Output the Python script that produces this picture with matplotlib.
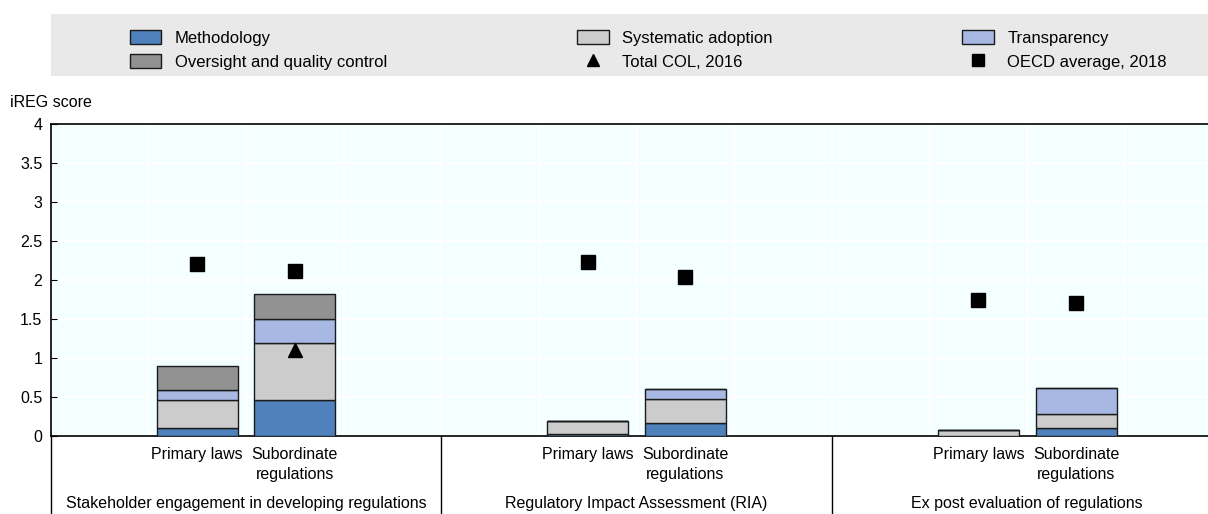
import numpy as np
import matplotlib.pyplot as plt
from matplotlib.patches import Rectangle, Patch
from matplotlib.lines import Line2D

plt.rcParams['font.family'] = ['Liberation Sans', 'DejaVu Sans']
plt.rcParams['font.size'] = 11.5

groups = ['Stakeholder engagement in developing regulations',
          'Regulatory Impact Assessment (RIA)',
          'Ex post evaluation of regulations']
bar_labels = ['Primary laws', 'Subordinate\nregulations']

# order per group: primary, subordinate
methodology  = [0.10, 0.46, 0.02, 0.17, 0.00, 0.10]
systematic   = [0.36, 0.73, 0.17, 0.30, 0.08, 0.18]
transparency = [0.13, 0.31, 0.00, 0.13, 0.00, 0.34]
oversight    = [0.31, 0.32, 0.00, 0.00, 0.00, 0.00]
total_col    = [np.nan, 1.10, np.nan, np.nan, np.nan, np.nan]
oecd_avg     = [2.20, 2.11, 2.23, 2.04, 1.74, 1.70]

c_meth = '#4f81bd'
c_sys = '#cccccc'
c_tra = '#a7b9e3'
c_ove = '#929292'

# 4 slots per group, bars in the two middle slots
x = np.array([4 * g + k for g in range(3) for k in (1, 2)])

fig = plt.figure(figsize=(12.08, 5.14), dpi=100)
ax = fig.add_axes([0.042, 0.152, 0.970, 0.607])
ax.set_facecolor('#f4ffff')

w = 0.83
bottom = np.zeros(len(x))
for vals, col in [(methodology, c_meth), (systematic, c_sys),
                  (transparency, c_tra), (oversight, c_ove)]:
    v = np.array(vals)
    ax.bar(x, v, w, bottom=bottom, color=col, edgecolor='#1a1a1a',
           linewidth=1, zorder=3)
    bottom += v

ax.plot(x, total_col, '^', color='black', markersize=10, zorder=4)
ax.plot(x, oecd_avg, 's', color='black', markersize=10, zorder=4)

ax.set_xlim(-0.5, 11.5)
ax.set_ylim(0, 4)
ax.set_yticks(np.arange(0, 4.01, 0.5))
ax.set_yticklabels(['0', '0.5', '1', '1.5', '2', '2.5', '3', '3.5', '4'])
ax.tick_params(axis='y', direction='in', length=4, pad=6)
ax.set_xticks(x)
ax.set_xticklabels(bar_labels * 3, va='top', ha='center', linespacing=1.4)
ax.tick_params(axis='x', length=0, pad=8)
ax.set_xticks(np.arange(-0.5, 11.6, 1), minor=True)
ax.tick_params(axis='x', which='minor', length=0)
ax.grid(True, which='minor', axis='x', color='white', linewidth=1.5, zorder=0)
ax.grid(True, which='major', axis='y', color='white', linewidth=1.5, zorder=0)
ax.set_axisbelow(True)

for s in ['left', 'top', 'bottom']:
    ax.spines[s].set_color('black')
    ax.spines[s].set_linewidth(1.2)
ax.spines['right'].set_visible(False)

trans = ax.get_xaxis_transform()
for xs in [-0.5, 3.5, 7.5]:
    ax.plot([xs, xs], [0, -0.3], color='black', linewidth=1, transform=trans,
            clip_on=False)
for g, name in enumerate(groups):
    ax.text(4 * g + 1.5, -0.218, name, transform=trans, ha='center', va='center')

fig.text(0.008, 0.8, 'iREG score', ha='left', va='center')

fig.patches.append(Rectangle((0.042, 0.852), 0.958, 0.121, transform=fig.transFigure,
                             facecolor='#e9e9e9', edgecolor='none'))
handles = [
    Patch(facecolor=c_meth, edgecolor='#1a1a1a', label='Methodology'),
    Patch(facecolor=c_ove, edgecolor='#1a1a1a', label='Oversight and quality control'),
    Patch(facecolor=c_sys, edgecolor='#1a1a1a', label='Systematic adoption'),
    Line2D([], [], marker='^', color='black', linestyle='none', markersize=9,
           label='Total COL, 2016'),
    Patch(facecolor=c_tra, edgecolor='#1a1a1a', label='Transparency'),
    Line2D([], [], marker='s', color='black', linestyle='none', markersize=9,
           label='OECD average, 2018'),
]
fig.legend(handles=handles, ncol=3, loc='center left', bbox_to_anchor=(0.1004, 0.903),
           frameon=False, fontsize=12, handlelength=1.9, handleheight=0.9,
           handletextpad=0.8, columnspacing=11.4, labelspacing=0.5, borderpad=0)

fig.savefig('out.png', dpi=100)
